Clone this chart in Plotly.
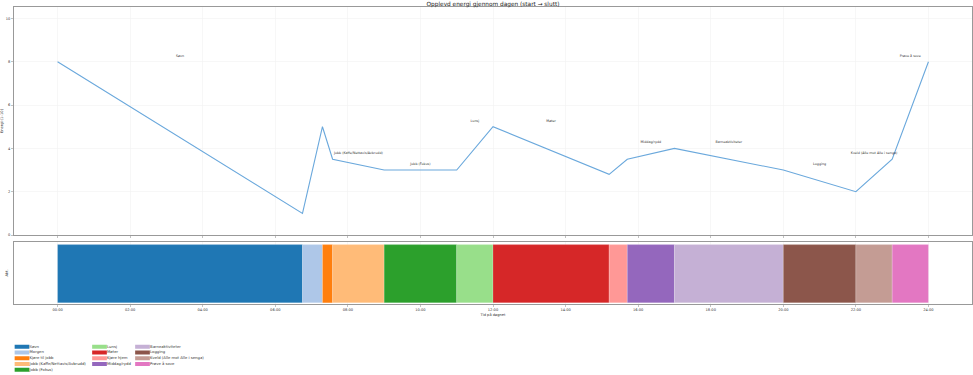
import plotly.graph_objects as go

# ---- data ----
activities = ["Søvn", "Morgen", "Kjøre til jobb", "Jobb (Kaffe/Nettavis/Avbrudd)", "Jobb (Fokus)",
              "Lunsj", "Møter", "Kjøre hjem", "Middag/rydd", "Barneaktiviteter", "Logging",
              "Kveld (Alle mot Alle i senga)", "Prøve å sove"]
start_hours = [0.0, 6.75, 7.3, 7.58, 9.0, 11.0, 12.0, 15.2, 15.7, 17.0, 20.0, 22.0, 23.0]
end_hours = [6.75, 7.3, 7.58, 9.0, 11.0, 12.0, 15.2, 15.7, 17.0, 20.0, 22.0, 23.0, 24.0]
energy_start = [8, 1, 5, 3.5, 3, 3, 5, 2.8, 3.5, 4, 3, 2, 3.5]
energy_end_of_day = 8
colors = ["#1f77b4", "#aec7e8", "#ff7f0e", "#ffbb78", "#2ca02c", "#98df8a", "#d62728",
          "#ff9896", "#9467bd", "#c5b0d5", "#8c564b", "#c49c94", "#e377c2"]
tick_vals = list(range(0, 25, 2))
tick_text = [f"{h:02d}:00" for h in tick_vals]

FONT = "DejaVu Sans"
W, H = 973, 375

line_x = start_hours + [end_hours[-1]]
line_y = energy_start + [energy_end_of_day]

fig = go.Figure()

# energy line
fig.add_trace(go.Scatter(x=line_x, y=line_y, mode="lines",
                         line=dict(color="#6aa8dc", width=1.1), showlegend=False,
                         xaxis="x", yaxis="y", hoverinfo="skip"))

# labels for activities >= 1 h
lx, ly, lt = [], [], []
for i, a in enumerate(activities):
    if end_hours[i] - start_hours[i] >= 1:
        lx.append((start_hours[i] + end_hours[i]) / 2)
        ly.append(max(line_y[i], line_y[i + 1]) + 0.27)
        lt.append(a)
fig.add_trace(go.Scatter(x=lx, y=ly, text=lt, mode="text", textposition="middle center",
                         textfont=dict(family=FONT, size=3.3, color="#333"),
                         showlegend=False, xaxis="x", yaxis="y", hoverinfo="skip"))

# activity bars
for i, a in enumerate(activities):
    fig.add_trace(go.Bar(y=[0.5], x=[end_hours[i] - start_hours[i]], base=[start_hours[i]],
                         orientation="h", width=1,
                         marker=dict(color=colors[i], line=dict(width=0.3, color="rgba(255,255,255,0.6)")),
                         showlegend=False, xaxis="x2", yaxis="y2", hoverinfo="skip"))

# legend drawn in a helper axis (3 columns)
col_sizes = [5, 4, 4]
col_x = [22, 99.5, 142.5]
row_y = [346.7, 352.4, 358.2, 364.0, 369.7]
idx = 0
for c, n in enumerate(col_sizes):
    for r in range(n):
        fig.add_trace(go.Scatter(x=[col_x[c]], y=[row_y[r]], mode="markers+text",
                                 text=[activities[idx]], textposition="middle right",
                                 textfont=dict(family=FONT, size=3.8, color="#333"),
                                 marker=dict(symbol="line-ew", size=10.5,
                                             line=dict(width=4, color=colors[idx])),
                                 showlegend=False, xaxis="x3", yaxis="y3", hoverinfo="skip"))
        idx += 1

axis_common = dict(showline=True, mirror=True, linecolor="#999", linewidth=1,
                   ticks="outside", ticklen=2, tickcolor="#999", tickwidth=0.6,
                   tickfont=dict(family=FONT, size=3.6, color="#333"), zeroline=False,
                   automargin=False)

x_dom = [14 / W, 972 / W]
fig.update_layout(
    width=W, height=H, margin=dict(l=0, r=0, t=0, b=0, autoexpand=False),
    paper_bgcolor="white", plot_bgcolor="white",
    barmode="overlay", bargap=0,
    title=dict(text="Opplevd energi gjennom dagen (start → slutt)",
               x=493 / W, xanchor="center", y=1 - 3.5 / H, yanchor="middle",
               font=dict(family=FONT, size=5.8, color="#222")),
    xaxis=dict(domain=x_dom, range=[-1.2, 25.2], tickvals=tick_vals, showticklabels=False,
               showgrid=True, gridcolor="#f2f2f2", gridwidth=0.6, anchor="y", **axis_common),
    yaxis=dict(domain=[1 - 235 / H, 1 - 7 / H], range=[0, 10.53], tickvals=[0, 2, 4, 6, 8, 10],
               showgrid=True, gridcolor="#f2f2f2", gridwidth=0.6, anchor="x",
               title=dict(text="Energi (1–10)", font=dict(family=FONT, size=3.6, color="#333"), standoff=2),
               **axis_common),
    xaxis2=dict(domain=x_dom, range=[-1.2, 25.2], tickvals=tick_vals, ticktext=tick_text,
                showgrid=True, gridcolor="#f2f2f2", gridwidth=0.6, anchor="y2",
                title=dict(text="Tid på døgnet", font=dict(family=FONT, size=3.6, color="#333"), standoff=1),
                **axis_common),
    yaxis2=dict(domain=[1 - 304 / H, 1 - 241.7 / H], range=[-0.02, 1.05], showticklabels=False,
                ticks="", showgrid=False, anchor="x2", showline=True, mirror=True,
                linecolor="#999", linewidth=1, zeroline=False, automargin=False,
                title=dict(text="Akt.", font=dict(family=FONT, size=3.6, color="#333"), standoff=4)),
    xaxis3=dict(domain=[0, 1], range=[0, W], visible=False, anchor="y3", fixedrange=True, automargin=False),
    yaxis3=dict(domain=[0, 37.5 / H], range=[375, 337.5], visible=False, anchor="x3", fixedrange=True, automargin=False),
)

fig.write_html("out.html", config={"displayModeBar": False, "staticPlot": True},
               post_script="document.body.style.margin='0';document.body.style.overflow='hidden';")
